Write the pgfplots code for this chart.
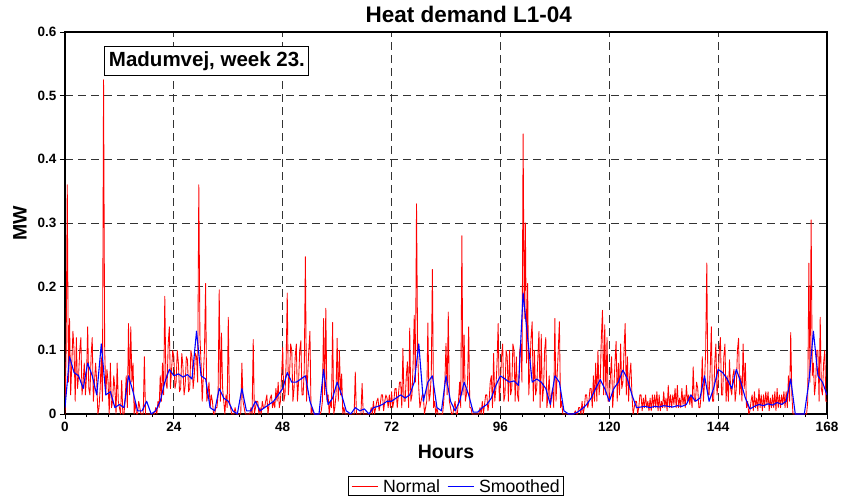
\documentclass[border=0pt]{standalone}
\usepackage{fontspec}
\setmainfont{Liberation Sans}
\usepackage{pgfplots}
\usepackage{pgfplotstable}
\pgfplotsset{compat=1.18}
\pgfplotstableread[row sep=\\,header=false]{
0.00\\0.10\\0.36\\0.05\\
0.15\\0.03\\0.08\\0.13\\
0.10\\0.02\\0.12\\0.04\\
0.06\\0.10\\0.12\\0.03\\
0.05\\0.08\\0.03\\0.06\\
0.137\\0.04\\0.03\\0.09\\
0.12\\0.02\\0.05\\0.08\\
0.05\\0.00\\0.01\\0.04\\
0.09\\0.02\\0.525\\0.10\\
0.03\\0.07\\0.05\\0.00\\
0.08\\0.01\\0.02\\0.06\\
0.04\\0.00\\0.08\\0.02\\
0.01\\0.00\\0.053\\0.00\\
0.00\\0.02\\0.06\\0.01\\
0.142\\0.03\\0.137\\0.05\\
0.08\\0.00\\0.02\\0.00\\
0.00\\0.02\\0.01\\0.00\\
0.00\\0.00\\0.09\\0.00\\
0\\0\\0\\0\\
0\\0\\0\\0\\
0.01\\0.00\\0.02\\0.01\\
0.06\\0.02\\0.08\\0.03\\
0.185\\0.05\\0.04\\0.11\\
0.137\\0.04\\0.07\\0.10\\
0.09\\0.04\\0.05\\0.10\\
0.08\\0.035\\0.04\\0.095\\
0.075\\0.03\\0.045\\0.09\\
0.085\\0.035\\0.04\\0.10\\
0.09\\0.04\\0.06\\0.095\\
0.09\\0.05\\0.36\\0.12\\
0.08\\0.02\\0.06\\0.10\\
0.205\\0.02\\0.03\\0.05\\
0.01\\0.03\\0.02\\0.00\\
0.00\\0.01\\0.01\\0.03\\
0.195\\0.02\\0.127\\0.04\\
0.02\\0.00\\0.03\\0.01\\
0.152\\0.02\\0.01\\0.00\\
0.00\\0.00\\0.01\\0.00\\
0\\0\\0\\0\\
0.08\\0.02\\0.01\\0.00\\
0\\0\\0\\0\\
0.01\\0.00\\0.117\\0.00\\
0.01\\0.02\\0.02\\0.00\\
0.01\\0.00\\0.02\\0.01\\
0.01\\0.02\\0.03\\0.00\\
0.015\\0.025\\0.03\\0.01\\
0.02\\0.01\\0.04\\0.02\\
0.05\\0.01\\0.02\\0.06\\
0.105\\0.02\\0.03\\0.08\\
0.19\\0.03\\0.06\\0.11\\
0.10\\0.02\\0.04\\0.09\\
0.11\\0.02\\0.05\\0.10\\
0.115\\0.03\\0.03\\0.07\\
0.247\\0.02\\0.06\\0.10\\
0.13\\0.00\\0.01\\0.00\\
0\\0\\0\\0\\
0.00\\0.00\\0.005\\0.02\\
0.15\\0.03\\0.166\\0.02\\
0.03\\0.00\\0.02\\0.01\\
0.144\\0.00\\0.01\\0.03\\
0.119\\0.02\\0.10\\0.03\\
0.063\\0.00\\0.01\\0.00\\
0\\0\\0\\0\\
0\\0\\0\\0\\
0.066\\0\\0\\0\\
0\\0\\0.048\\0\\
0\\0\\0\\0\\
0\\0\\0.01\\0\\
0.02\\0.00\\0.01\\0.02\\
0.025\\0.005\\0.015\\0.03\\
0.03\\0.005\\0.02\\0.03\\
0.025\\0.01\\0.03\\0.01\\
0.035\\0.01\\0.02\\0.04\\
0.04\\0.01\\0.03\\0.05\\
0.05\\0.01\\0.103\\0.02\\
0.02\\0.06\\0.082\\0.01\\
0.135\\0.02\\0.03\\0.08\\
0.155\\0.05\\0.33\\0.10\\
0.04\\0.01\\0.02\\0.03\\
0.03\\0.00\\0.01\\0.02\\
0.143\\0.02\\0.03\\0.06\\
0.227\\0.01\\0.02\\0.00\\
0.01\\0\\0\\0\\
0\\0\\0.02\\0.05\\
0.111\\0.03\\0.16\\0.02\\
0.01\\0\\0\\0.01\\
0.02\\0\\0\\0.02\\
0.05\\0.01\\0.28\\0.03\\
0.124\\0.02\\0.03\\0.05\\
0.137\\0.01\\0.01\\0\\
0\\0\\0\\0\\
0\\0\\0.01\\0\\
0.02\\0.00\\0.015\\0.03\\
0.03\\0.005\\0.02\\0.05\\
0.06\\0.01\\0.095\\0.02\\
0.04\\0.08\\0.142\\0.02\\
0.05\\0.09\\0.11\\0.02\\
0.03\\0.10\\0.09\\0.02\\
0.10\\0.03\\0.04\\0.11\\
0.10\\0.02\\0.09\\0.03\\
0.02\\0.10\\0.11\\0.05\\
0.44\\0.15\\0.30\\0.08\\
0.205\\0.03\\0.07\\0.12\\
0.145\\0.02\\0.10\\0.03\\
0.04\\0.09\\0.13\\0.01\\
0.125\\0.02\\0.04\\0.10\\
0.12\\0.01\\0.03\\0.06\\
0.01\\0.03\\0.04\\0.01\\
0.15\\0.02\\0.06\\0.10\\
0.145\\0.01\\0.02\\0.00\\
0\\0\\0\\0\\
0\\0\\0\\0\\
0\\0\\0.005\\0\\
0\\0.01\\0.01\\0\\
0.02\\0.00\\0.01\\0.03\\
0.03\\0.01\\0.02\\0.04\\
0.04\\0.01\\0.06\\0.02\\
0.08\\0.02\\0.10\\0.03\\
0.05\\0.12\\0.163\\0.03\\
0.14\\0.03\\0.12\\0.02\\
0.02\\0.06\\0.09\\0.01\\
0.04\\0.08\\0.114\\0.02\\
0.08\\0.03\\0.11\\0.04\\
0.05\\0.10\\0.142\\0.03\\
0.09\\0.02\\0.06\\0.08\\
0.03\\0.00\\0.01\\0.02\\
0.02\\0.00\\0.01\\0.03\\
0.03\\0.005\\0.025\\0.01\\
0.03\\0.01\\0.02\\0.005\\
0.025\\0.005\\0.03\\0.01\\
0.03\\0.01\\0.035\\0.005\\
0.03\\0.005\\0.02\\0.01\\
0.035\\0.01\\0.025\\0.005\\
0.045\\0.01\\0.03\\0.01\\
0.03\\0.015\\0.04\\0.01\\
0.045\\0.01\\0.025\\0.01\\
0.04\\0.015\\0.03\\0.01\\
0.045\\0.02\\0.03\\0.015\\
0.03\\0.01\\0.074\\0.02\\
0.02\\0.05\\0.04\\0.01\\
0.01\\0.03\\0.09\\0.02\\
0.05\\0.10\\0.237\\0.03\\
0.03\\0.07\\0.137\\0.02\\
0.02\\0.08\\0.11\\0.03\\
0.05\\0.10\\0.12\\0.03\\
0.03\\0.09\\0.11\\0.02\\
0.06\\0.02\\0.085\\0.04\\
0.03\\0.06\\0.07\\0.02\\
0.04\\0.10\\0.119\\0.03\\
0.06\\0.02\\0.11\\0.04\\
0.08\\0.01\\0.02\\0.00\\
0.005\\0.02\\0.03\\0.005\\
0.035\\0.01\\0.025\\0.005\\
0.04\\0.01\\0.03\\0.005\\
0.03\\0.01\\0.035\\0.015\\
0.035\\0.005\\0.025\\0.01\\
0.03\\0.01\\0.035\\0.005\\
0.04\\0.01\\0.03\\0.01\\
0.03\\0.015\\0.035\\0.01\\
0.035\\0.01\\0.06\\0.02\\
0.128\\0.03\\0\\0\\
0\\0\\0\\0\\
0\\0\\0\\0\\
0\\0\\0\\0.02\\
0.237\\0.05\\0.305\\0.06\\
0.08\\0.03\\0.05\\0.10\\
0.10\\0.02\\0.152\\0.04\\
0.03\\0.08\\0.10\\0.02\\
0.02\\
}\normaltab
\pgfplotstableread[row sep=\\,header=false]{
0.01\\0.09\\0.065\\0.06\\0.04\\0.08\\0.06\\0.03\\0.11\\0.03\\
0.035\\0.01\\0.015\\0.01\\0.06\\0.035\\0.005\\0.005\\0.02\\0.0\\
0.005\\0.02\\0.05\\0.07\\0.06\\0.063\\0.058\\0.062\\0.055\\0.13\\
0.06\\0.055\\0.01\\0.005\\0.04\\0.025\\0.02\\0.005\\0.0\\0.04\\
0.005\\0.005\\0.02\\0.005\\0.01\\0.015\\0.02\\0.03\\0.04\\0.065\\
0.05\\0.05\\0.055\\0.06\\0.02\\0.0\\0.0\\0.07\\0.015\\0.025\\
0.05\\0.03\\0.005\\0.0\\0.01\\0.005\\0.008\\0.0\\0.01\\0.012\\
0.015\\0.02\\0.02\\0.025\\0.03\\0.025\\0.03\\0.05\\0.11\\0.02\\
0.05\\0.06\\0.01\\0.005\\0.06\\0.02\\0.005\\0.02\\0.05\\0.03\\
0.003\\0.003\\0.01\\0.015\\0.025\\0.045\\0.06\\0.055\\0.05\\0.052\\
0.045\\0.19\\0.12\\0.05\\0.055\\0.05\\0.04\\0.015\\0.06\\0.05\\
0.005\\0.0\\0.0\\0.003\\0.008\\0.015\\0.025\\0.04\\0.054\\0.04\\
0.02\\0.04\\0.05\\0.069\\0.055\\0.03\\0.01\\0.011\\0.012\\0.01\\
0.012\\0.011\\0.013\\0.012\\0.011\\0.013\\0.012\\0.015\\0.03\\0.02\\
0.025\\0.06\\0.02\\0.04\\0.07\\0.065\\0.055\\0.04\\0.07\\0.05\\
0.025\\0.008\\0.012\\0.015\\0.013\\0.016\\0.014\\0.018\\0.015\\0.02\\
0.055\\0\\0\\0\\0.05\\0.13\\0.06\\0.05\\0.03\\
}\smoothtab
\begin{document}
\begin{tikzpicture}
\useasboundingbox (-65bp,-89bp) rectangle (776bp,414bp);
\begin{axis}[
  scale only axis,
  width=762bp, height=382bp,
  xmin=0, xmax=168, ymin=0, ymax=0.6,
  xtick={0,24,48,72,96,120,144,168},
  ytick={0,0.1,0.2,0.3,0.4,0.5,0.6},
  yticklabels={0,0.1,0.2,0.3,0.4,0.5,0.6},
  minor x tick num=4,
  xtick pos=left, ytick pos=left,
  tick align=outside,
  major tick length=5bp, minor tick length=3bp,
  tick style={black, line width=0.8bp},
  axis line style={line width=1.6bp},
  /pgf/number format/assume math mode=true,
  ticklabel style={font=\bfseries\fontsize{13.5bp}{15bp}\selectfont},
  xmajorgrids, ymajorgrids,
  major grid style={black!80, line width=0.9bp, dash pattern=on 8bp off 5bp},
  xlabel={Hours}, ylabel={MW},
  label style={font=\bfseries\fontsize{19.5bp}{22bp}\selectfont},
  xlabel style={at={(axis description cs:0.5,0)}, anchor=base, yshift=-44bp},
  ylabel style={at={(axis description cs:-0.059,0.5)}, anchor=center},
  clip mode=individual,
]
\addplot[red, line width=0.85bp, line join=round] table[x expr=\coordindex*0.25, y index=0] {\normaltab};
\addplot[blue, line width=1.1bp, line join=round] table[x expr=\coordindex, y index=0] {\smoothtab};
\node[draw=black, line width=1bp, fill=white, inner xsep=4bp, inner ysep=5bp,
  font=\bfseries\fontsize{20.5bp}{23bp}\selectfont] at (axis cs:31.3,0.554) {Madumvej, week 23.};
\node[font=\bfseries\fontsize{22.5bp}{25bp}\selectfont, anchor=base] at (rel axis cs:0.530,1) [yshift=9bp] {Heat demand L1-04};
\node[draw=black, line width=0.8bp, fill=white, inner xsep=4bp, inner ysep=3bp,
  font=\fontsize{17.7bp}{20bp}\selectfont, anchor=center] (leg) at (rel axis cs:0.513,-0.188)
  {\hspace*{31bp}Normal\hspace*{39bp}Smoothed};
\draw[red, line width=1bp] ([xshift=4bp, yshift=5.8bp]leg.base west) -- ++(26bp,0bp);
\draw[blue, line width=1bp] ([xshift=100bp, yshift=5.8bp]leg.base west) -- ++(26bp,0bp);
\end{axis}
\end{tikzpicture}
\end{document}
